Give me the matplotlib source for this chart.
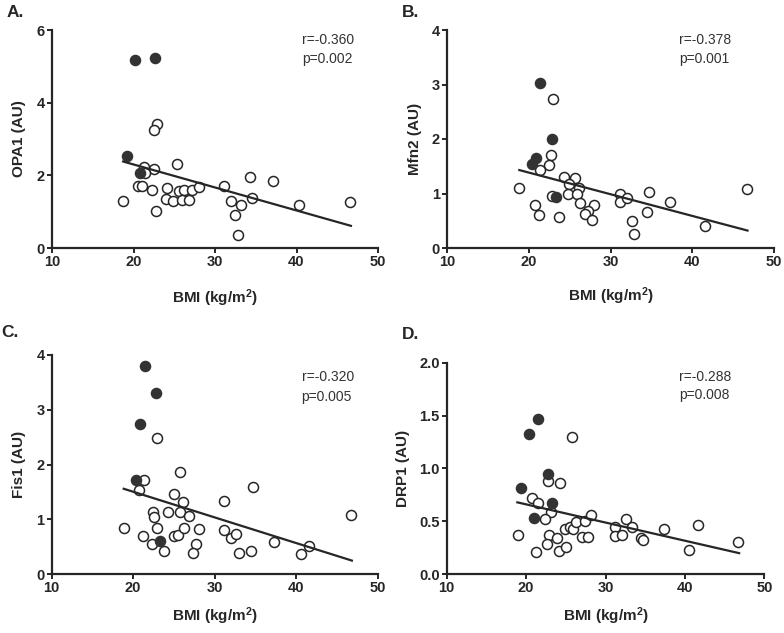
import matplotlib
matplotlib.use("Agg")
import matplotlib.pyplot as plt

plt.rcParams['font.family'] = ['Liberation Sans', 'DejaVu Sans']
plt.rcParams['mathtext.fontset'] = 'custom'
plt.rcParams['mathtext.rm'] = 'Liberation Sans:bold'
plt.rcParams['mathtext.default'] = 'rm'

# ---------------- Panel A: OPA1 ----------------
a_open_x = [22.85, 22.57, 25.34, 21.26, 22.48, 21.38, 20.57, 21.06, 22.28, 18.73, 22.77,
            24.11, 23.95, 24.89, 25.58, 26.19, 25.95, 26.81, 27.17, 27.99, 31.05, 34.32,
            37.17, 34.56, 31.95, 33.17, 32.44, 32.80, 40.36, 46.60]
a_open_y = [3.42, 3.24, 2.31, 2.24, 2.17, 2.06, 1.72, 1.72, 1.60, 1.29, 1.01,
            1.66, 1.36, 1.28, 1.58, 1.60, 1.31, 1.31, 1.60, 1.67, 1.71, 1.95,
            1.85, 1.37, 1.30, 1.17, 0.91, 0.36, 1.18, 1.26]
a_fill_x = [20.16, 22.69, 19.26, 20.77]
a_fill_y = [5.18, 5.22, 2.54, 2.07]
a_fit_x = [18.73, 46.68]
a_fit_y = [2.38, 0.61]

# ---------------- Panel B: Mfn2 ----------------
b_open_x = [22.97, 22.69, 22.48, 21.38, 18.85, 20.77, 21.22, 23.75, 22.85, 24.28, 25.70,
            24.97, 26.12, 24.85, 25.87, 26.24, 28.03, 27.30, 26.89, 27.78, 31.21, 31.17,
            32.03, 34.72, 34.44, 37.29, 32.61, 32.85, 41.62, 46.68]
b_open_y = [2.73, 1.71, 1.53, 1.43, 1.10, 0.78, 0.61, 0.57, 0.96, 1.31, 1.28,
            1.17, 1.10, 1.00, 0.99, 0.83, 0.79, 0.67, 0.62, 0.51, 1.00, 0.84,
            0.92, 1.02, 0.66, 0.85, 0.49, 0.26, 0.41, 1.09]
b_fill_x = [21.42, 22.81, 20.89, 20.37, 23.30]
b_fill_y = [3.03, 2.00, 1.66, 1.54, 0.93]
b_fit_x = [18.85, 46.76]
b_fit_y = [1.43, 0.32]

# ---------------- Panel C: Fis1 ----------------
c_open_x = [22.97, 21.38, 20.69, 25.75, 25.02, 26.07, 22.48, 22.61, 24.24, 25.71, 26.89,
            18.90, 21.18, 22.89, 22.33, 23.83, 24.97, 25.51, 26.28, 28.08, 27.66, 27.30,
            31.18, 34.69, 31.18, 32.03, 32.56, 32.93, 34.39, 37.29, 40.51, 41.58, 46.72]
c_open_y = [2.49, 1.72, 1.54, 1.86, 1.46, 1.31, 1.13, 1.05, 1.14, 1.13, 1.06,
            0.85, 0.69, 0.84, 0.55, 0.43, 0.70, 0.72, 0.85, 0.83, 0.55, 0.38,
            1.33, 1.59, 0.81, 0.67, 0.74, 0.38, 0.43, 0.59, 0.37, 0.52, 1.09]
c_fill_x = [21.51, 22.81, 20.89, 20.32, 23.30]
c_fill_y = [3.80, 3.30, 2.74, 1.72, 0.61]
c_fit_x = [18.85, 46.80]
c_fit_y = [1.56, 0.25]

# ---------------- Panel D: DRP1 ----------------
d_open_x = [25.76, 22.73, 24.28, 20.72, 21.47, 23.11, 22.43, 18.95, 22.90, 23.86, 22.61,
            21.26, 24.12, 25.00, 24.91, 25.54, 25.88, 26.26, 27.39, 28.19, 27.01, 27.77,
            31.21, 32.59, 33.35, 31.17, 32.05, 34.45, 34.74, 37.34, 41.62, 40.53, 46.70]
d_open_y = [1.30, 0.88, 0.86, 0.72, 0.67, 0.59, 0.52, 0.37, 0.37, 0.34, 0.29,
            0.21, 0.22, 0.26, 0.43, 0.45, 0.43, 0.49, 0.50, 0.56, 0.35, 0.35,
            0.45, 0.52, 0.45, 0.36, 0.37, 0.34, 0.32, 0.43, 0.47, 0.23, 0.31]
d_fill_x = [21.55, 20.34, 22.81, 19.41, 23.31, 20.97]
d_fill_y = [1.47, 1.33, 0.95, 0.82, 0.67, 0.53]
d_fit_x = [18.90, 46.83]
d_fit_y = [0.68, 0.20]

x_ticks = [10, 20, 30, 40, 50]
x_label = 'BMI (kg/m$^{2}$)'

panels = [
    dict(rect=[52/784, 1-248/633, 326/784, 218/633], letter='A.', ylabel='OPA1 (AU)',
         ylim=(0, 6), yticks=[0, 2, 4, 6], yfmt='{:g}', ox=a_open_x, oy=a_open_y,
         fx=a_fill_x, fy=a_fill_y, lx=a_fit_x, ly=a_fit_y, r='r=-0.360', p='p=0.002',
         tx=0.766, ry=0.954, py=0.866, ylx=-0.079, xly=-0.179, lpos=(0.008, 0.992)),
    dict(rect=[447/784, 1-248/633, 327/784, 218/633], letter='B.', ylabel='Mfn2 (AU)',
         ylim=(0, 4), yticks=[0, 1, 2, 3, 4], yfmt='{:g}', ox=b_open_x, oy=b_open_y,
         fx=b_fill_x, fy=b_fill_y, lx=b_fit_x, ly=b_fit_y, r='r=-0.378', p='p=0.001',
         tx=0.710, ry=0.954, py=0.866, ylx=-0.077, xly=-0.172, lpos=(0.513, 0.992)),
    dict(rect=[51.5/784, 1-574.3/633, 326.5/784, 219.3/633], letter='C.', ylabel='Fis1 (AU)',
         ylim=(0, 4), yticks=[0, 1, 2, 3, 4], yfmt='{:g}', ox=c_open_x, oy=c_open_y,
         fx=c_fill_x, fy=c_fill_y, lx=c_fit_x, ly=c_fit_y, r='r=-0.320', p='p=0.005',
         tx=0.766, ry=0.898, py=0.81, ylx=-0.078, xly=-0.14, lpos=(0.002, 0.487)),
    dict(rect=[446.7/784, 1-574.3/633, 317.6/784, 211.6/633], letter='D.', ylabel='DRP1 (AU)',
         ylim=(0, 2), yticks=[0, 0.5, 1.0, 1.5, 2.0], yfmt='{:.1f}', ox=d_open_x, oy=d_open_y,
         fx=d_fill_x, fy=d_fill_y, lx=d_fit_x, ly=d_fit_y, r='r=-0.288', p='p=0.008',
         tx=0.732, ry=0.931, py=0.847, ylx=-0.115, xly=-0.146, lpos=(0.513, 0.483)),
]

fig = plt.figure(figsize=(7.84, 6.33), dpi=100)
ink = '#262626'
for pn in panels:
    ax = fig.add_axes(pn['rect'])
    ax.set_xlim(10, 50)
    ax.set_ylim(*pn['ylim'])
    for s in ['top', 'right']:
        ax.spines[s].set_visible(False)
    for s in ['left', 'bottom']:
        ax.spines[s].set_color(ink)
        ax.spines[s].set_linewidth(1.6)
    ax.set_xticks(x_ticks)
    ax.set_yticks(pn['yticks'])
    ax.set_yticklabels([pn['yfmt'].format(v) for v in pn['yticks']])
    ax.tick_params(direction='out', length=3.5, width=1.4, color=ink, pad=1.5,
                   labelsize=10.5, labelcolor=ink)
    for lab in ax.get_xticklabels() + ax.get_yticklabels():
        lab.set_fontweight('bold')
    ax.set_ylabel(pn['ylabel'], fontsize=11, fontweight='bold', color=ink)
    ax.yaxis.set_label_coords(pn['ylx'], 0.5)
    ax.set_xlabel(x_label, fontsize=11, fontweight='bold', color=ink)
    ax.xaxis.set_label_coords(0.5, pn['xly'])
    ax.scatter(pn['ox'], pn['oy'], s=52, facecolors='white', edgecolors=ink,
               linewidths=1.1, zorder=3, clip_on=False)
    ax.scatter(pn['fx'], pn['fy'], s=52, facecolors='#333333', edgecolors='#333333',
               linewidths=1.1, zorder=4, clip_on=False)
    ax.plot(pn['lx'], pn['ly'], color=ink, lw=1.6, zorder=5)
    ax.text(pn['tx'], pn['ry'], pn['r'], transform=ax.transAxes, fontsize=10,
            color='#333333', va='center', ha='left')
    ax.text(pn['tx'], pn['py'], pn['p'], transform=ax.transAxes, fontsize=10,
            color='#333333', va='center', ha='left')
    fig.text(pn['lpos'][0], pn['lpos'][1], pn['letter'], fontsize=12.5,
             fontweight='bold', color=ink, va='top', ha='left')

fig.savefig('out.png', dpi=100)
